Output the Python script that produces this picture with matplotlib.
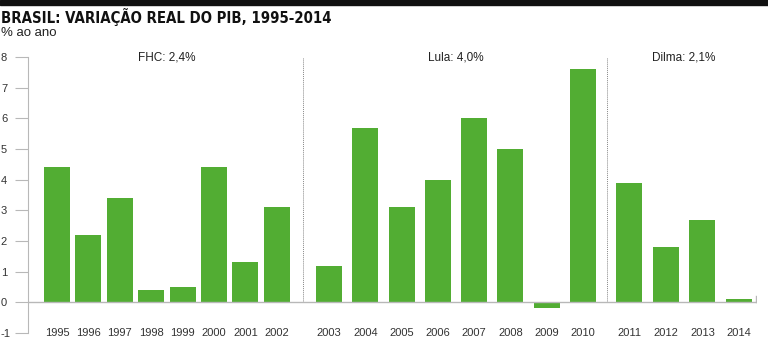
import matplotlib
matplotlib.use("Agg")
import matplotlib.pyplot as plt

plt.rcParams["font.family"] = ["Liberation Sans", "DejaVu Sans"]
plt.rcParams["axes.unicode_minus"] = False
GREEN = "#52ad33"
GRAY = "#b8b8b8"

# dados: variação real do PIB (% ao ano)
fhc_anos = [1995, 1996, 1997, 1998, 1999, 2000, 2001, 2002]
fhc_pib = [4.4, 2.2, 3.4, 0.4, 0.5, 4.4, 1.3, 3.1]
lula_anos = [2003, 2004, 2005, 2006, 2007, 2008, 2009, 2010]
lula_pib = [1.2, 5.7, 3.1, 4.0, 6.0, 5.0, -0.2, 7.6]
dilma_anos = [2011, 2012, 2013, 2014]
dilma_pib = [3.9, 1.8, 2.7, 0.1]
rotulos = ["FHC: 2,4%", "Lula: 4,0%", "Dilma: 2,1%"]

# layout de cada governo: (inicio, passo) em unidades de eixo (~pixels)
grupos = [(fhc_anos, fhc_pib, 57, 31.4), (lula_anos, lula_pib, 329, 36.3),
          (dilma_anos, dilma_pib, 629, 36.7)]
divisorias = [303, 607]

fig = plt.figure(figsize=(7.68, 3.56), dpi=100)
ax = fig.add_axes([28 / 768, (356 - 333) / 356, (757 - 28) / 768, (333 - 57) / 356])
ax.set_xlim(28, 757); ax.set_ylim(-1, 8)

for (anos, pib, x0, passo), rot in zip(grupos, rotulos):
    xs = [x0 + i * passo for i in range(len(anos))]
    ax.bar(xs, pib, width=26, color=GREEN, zorder=2)
    for x, a in zip(xs, anos):
        ax.text(x, -1, str(a), ha="center", va="center", fontsize=8, color="#333333")
    ax.text((xs[0] + xs[-1]) / 2, 8, rot, ha="center", va="center", fontsize=8.5, color="#222222")

for d in divisorias:
    ax.plot([d, d], [0, 8], ls=(0, (1, 1)), lw=0.7, color="#888888", zorder=1)

ax.axhline(0, color=GRAY, lw=1, zorder=3)
ax.plot([756, 756], [0, 0.2], color=GRAY, lw=1)

for s in ["top", "right", "bottom"]:
    ax.spines[s].set_visible(False)
ax.spines["left"].set_color(GRAY)
ax.set_yticks(range(-1, 9))
ax.tick_params(axis="y", length=9.5, width=0.8, color=GRAY, labelsize=8, labelcolor="#333333", pad=10)
for lb in ax.get_yticklabels():
    lb.set_horizontalalignment("left")
ax.set_xticks([])

# cabeçalho
fig.patches.append(plt.Rectangle((0, 1 - 5 / 356), 1, 5 / 356, transform=fig.transFigure,
                                 color="#111111", zorder=5))
fig.text(0.001, 1 - 17 / 356, "BRASIL: VARIAÇÃO REAL DO PIB, 1995-2014", fontsize=10.7,
         fontweight="bold", family="DejaVu Sans", fontstretch="condensed",
         va="center", ha="left", color="#111111")
fig.text(0.001, 1 - 33 / 356, "% ao ano", fontsize=9.5, va="center", ha="left", color="#222222")

fig.savefig("out.png", dpi=100)
